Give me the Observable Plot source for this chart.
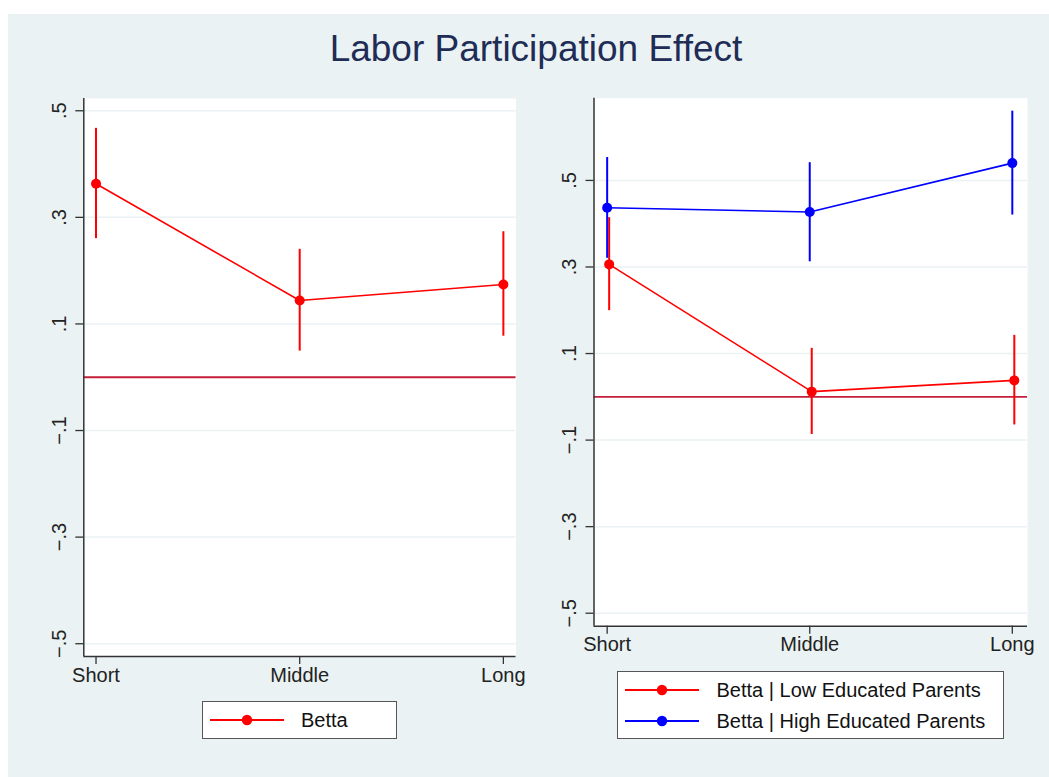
<!DOCTYPE html>
<html>
<head>
<meta charset="utf-8">
<script src="https://cdn.jsdelivr.net/npm/d3@7"></script>
<script src="https://cdn.jsdelivr.net/npm/@observablehq/plot@0.6"></script>
<style>
  html, body { margin: 0; padding: 0; background: #ffffff; }
  body { width: 1049px; height: 777px; position: relative; overflow: hidden;
         font-family: "Liberation Sans", Arial, Helvetica, sans-serif; }
  #bg { position: absolute; left: 8px; top: 14px; width: 1041px; height: 763px; background: #eaf2f3; }
  #title { position: absolute; left: 0; width: 1072px; top: 27px; text-align: center;
           font-size: 37px; color: #1f2d56; line-height: 44px; }
  .panel { position: absolute; }
  .legend { position: absolute; background: #fff; border: 1.5px solid #555; box-sizing: border-box; }
  .row { position: absolute; left: 0; right: 0; height: 30px; }
  .row svg { position: absolute; top: 0; }
  .row span { position: absolute; font-size: 20px; color: #111; line-height: 30px; top: 0; white-space: nowrap; }
</style>
</head>
<body>
<div id="bg"></div>
<div id="title">Labor Participation Effect</div>
<div id="left" class="panel" style="left:20px; top:90px;"></div>
<div id="right" class="panel" style="left:540px; top:90px;"></div>
<div id="legL" class="legend" style="left:202px; top:701px; width:195px; height:38px;"></div>
<div id="legR" class="legend" style="left:617px; top:671px; width:387px; height:68px;"></div>
<script>
// ---- data ----
const categories = ["Short", "Middle", "Long"];
const catIndex = [1, 2, 3];
const yTicks = [-0.5, -0.3, -0.1, 0.1, 0.3, 0.5];

// Left panel: Betta
const bettaEst = [0.363, 0.144, 0.174];
const bettaLo  = [0.260, 0.049, 0.077];
const bettaHi  = [0.467, 0.240, 0.273];

// Right panel: Low educated parents
const lowEst = [0.306, 0.012, 0.038];
const lowLo  = [0.199, -0.087, -0.065];
const lowHi  = [0.414, 0.112, 0.142];

// Right panel: High educated parents
const highEst = [0.437, 0.427, 0.540];
const highLo  = [0.320, 0.312, 0.420];
const highHi  = [0.553, 0.541, 0.660];

const legendLabels = ["Betta", "Betta | Low Educated Parents", "Betta | High Educated Parents"];
const RED = "#ff0000", BLUE = "#0000ff", ZERO = "#c41e3a", AXIS = "#333333", GRID = "#eaf2f3";

const rows = (est, lo, hi) => catIndex.map((x, i) => ({x, cat: categories[i], y: est[i], lo: lo[i], hi: hi[i]}));
const fmt = d => (d < 0 ? "\u2212" : "") + "." + Math.round(Math.abs(d) * 10);

function panel({width, height, margins, xDomain, yDomain, series}) {
  const marks = [
    Plot.frame({fill: "white", stroke: null}),
    Plot.gridY({ticks: yTicks, stroke: GRID, strokeOpacity: 1, strokeWidth: 1.5}),
    Plot.ruleY([0], {stroke: ZERO, strokeWidth: 1.8}),
  ];
  for (const s of series) {
    marks.push(
      Plot.ruleX(s.data, {x: "x", y1: "lo", y2: "hi", stroke: s.color, strokeWidth: 2, dx: s.dx || 0}),
      Plot.line(s.data, {x: "x", y: "y", stroke: s.color, strokeWidth: 1.6, dx: s.dx || 0}),
      Plot.dot(s.data, {x: "x", y: "y", r: 5, fill: s.color, stroke: null, dx: s.dx || 0})
    );
  }
  marks.push(
    Plot.ruleX([xDomain[0]], {stroke: AXIS, strokeWidth: 1.5}),
    Plot.ruleY([yDomain[0]], {stroke: AXIS, strokeWidth: 1.5}),
    Plot.axisY({ticks: yTicks, tickSize: 8, tickFormat: () => "", label: null, stroke: AXIS, strokeWidth: 1.3}),
    Plot.text(yTicks, {y: d => d, text: fmt, frameAnchor: "left", dx: -24, rotate: -90,
                       textAnchor: "middle", lineAnchor: "middle", fontSize: 20, fill: "#222"}),
    Plot.axisX({ticks: catIndex, tickFormat: d => categories[d - 1], tickSize: 8, tickPadding: 3,
                label: null, fontSize: 20, stroke: AXIS, strokeWidth: 1.3, fill: "#222"})
  );
  return Plot.plot({
    width, height,
    marginLeft: margins[0], marginRight: margins[1], marginTop: margins[2], marginBottom: margins[3],
    x: {type: "linear", domain: xDomain, axis: null, label: null},
    y: {type: "linear", domain: yDomain, axis: null, label: null},
    style: {background: "transparent", fontFamily: "Liberation Sans, Arial, sans-serif", fontSize: "20px", color: "#222", overflow: "visible"},
    marks
  });
}

document.getElementById("left").appendChild(panel({
  width: 510, height: 610, margins: [63.3, 14.5, 8, 44],
  xDomain: [0.94, 3.062], yDomain: [-0.524, 0.523],
  series: [{data: rows(bettaEst, bettaLo, bettaHi), color: RED}]
}));

document.getElementById("right").appendChild(panel({
  width: 500, height: 580, margins: [53.5, 13, 7.7, 44.3],
  xDomain: [0.935, 3.075], yDomain: [-0.530, 0.690],
  series: [
    {data: rows(lowEst, lowLo, lowHi), color: RED, dx: 2},
    {data: rows(highEst, highLo, highHi), color: BLUE}
  ]
}));

// ---- legends ----
function legendRow(parent, top, color, label, lineX, lineW, textX) {
  const row = document.createElement("div");
  row.className = "row";
  row.style.top = top + "px";
  row.innerHTML = `<svg width="${lineW + 4}" height="30" style="left:${lineX - 2}px">
      <line x1="2" x2="${lineW + 2}" y1="15" y2="15" stroke="${color}" stroke-width="2"/>
      <circle cx="${lineW / 2 + 2}" cy="15" r="5.2" fill="${color}"/></svg>
    <span style="left:${textX}px">${label}</span>`;
  parent.appendChild(row);
}
const legL = document.getElementById("legL");
legendRow(legL, 2.5, RED, legendLabels[0], 7, 74, 98);
const legR = document.getElementById("legR");
legendRow(legR, 2.5, RED, legendLabels[1], 7, 74, 98.5);
legendRow(legR, 33.5, BLUE, legendLabels[2], 7, 74, 98.5);
</script>
</body>
</html>
